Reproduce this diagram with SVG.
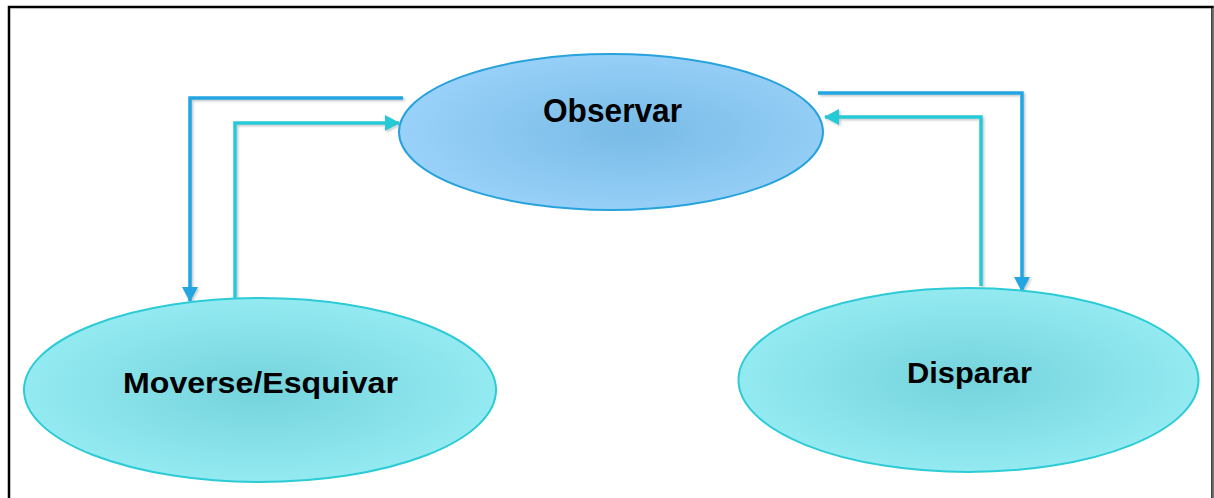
<svg xmlns="http://www.w3.org/2000/svg" width="1214" height="498" viewBox="0 0 1214 498">
<defs>
<radialGradient id="gTop" cx="0.55" cy="0.5" r="0.55">
<stop offset="0" stop-color="#78bbe6"/>
<stop offset="1" stop-color="#99d1f9"/>
</radialGradient>
<radialGradient id="gBot" cx="0.5" cy="0.5" r="0.55">
<stop offset="0" stop-color="#74d3dc"/>
<stop offset="1" stop-color="#97ecf3"/>
</radialGradient>
<marker id="aBlue" markerWidth="16" markerHeight="16" refX="14" refY="8" orient="auto" markerUnits="userSpaceOnUse">
<path d="M0,0 L15,8 L0,16 Z" fill="#22a5e0"/>
</marker>
<marker id="aCyan" markerWidth="16" markerHeight="16" refX="14" refY="8" orient="auto" markerUnits="userSpaceOnUse">
<path d="M0,0 L15,8 L0,16 Z" fill="#28c9d6"/>
</marker>
<filter id="sh" x="-5%" y="-5%" width="110%" height="110%">
<feDropShadow dx="1.5" dy="1.5" stdDeviation="1.2" flood-color="#000" flood-opacity="0.22"/>
</filter>
</defs>
<style>
.lbl{font-family:"Liberation Sans",Arial,sans-serif;font-weight:bold;fill:#000;text-anchor:middle}
.blue{fill:none;stroke:#22a5e0;stroke-width:3.5;marker-end:url(#aBlue)}
.cyan{fill:none;stroke:#28c9d6;stroke-width:3.5;marker-end:url(#aCyan)}
</style>
<rect x="0" y="0" width="1214" height="498" fill="#ffffff"/>
<rect x="9" y="7" width="1203.5" height="500" fill="none" stroke="#000" stroke-width="2.5"/>
<line x1="1213" y1="8" x2="1213" y2="498" stroke="#888" stroke-width="1.5"/>
<g id="connectors" filter="url(#sh)">
<path class="blue" d="M403,98 L190,98 L190,301"/>
<path class="cyan" d="M235,298 L235,123 L399,123"/>
<path class="blue" d="M818,93 L1022,93 L1022,291"/>
<path class="cyan" d="M981,286 L981,117 L825,117"/>
</g>
<g id="observar">
<ellipse cx="611" cy="132" rx="212" ry="78" fill="url(#gTop)" stroke="#27a2dc" stroke-width="2"/>
<text class="lbl" x="612.5" y="122" font-size="33" textLength="139" lengthAdjust="spacingAndGlyphs">Observar</text>
</g>
<g id="moverse">
<ellipse cx="260" cy="390" rx="236" ry="92" fill="url(#gBot)" stroke="#2ccbd6" stroke-width="2"/>
<text class="lbl" x="260.5" y="393" font-size="30" textLength="275" lengthAdjust="spacingAndGlyphs">Moverse/Esquivar</text>
</g>
<g id="disparar">
<ellipse cx="968.5" cy="380" rx="230" ry="92" fill="url(#gBot)" stroke="#2ccbd6" stroke-width="2"/>
<text class="lbl" x="969.5" y="383" font-size="30" textLength="125" lengthAdjust="spacingAndGlyphs">Disparar</text>
</g>
</svg>
